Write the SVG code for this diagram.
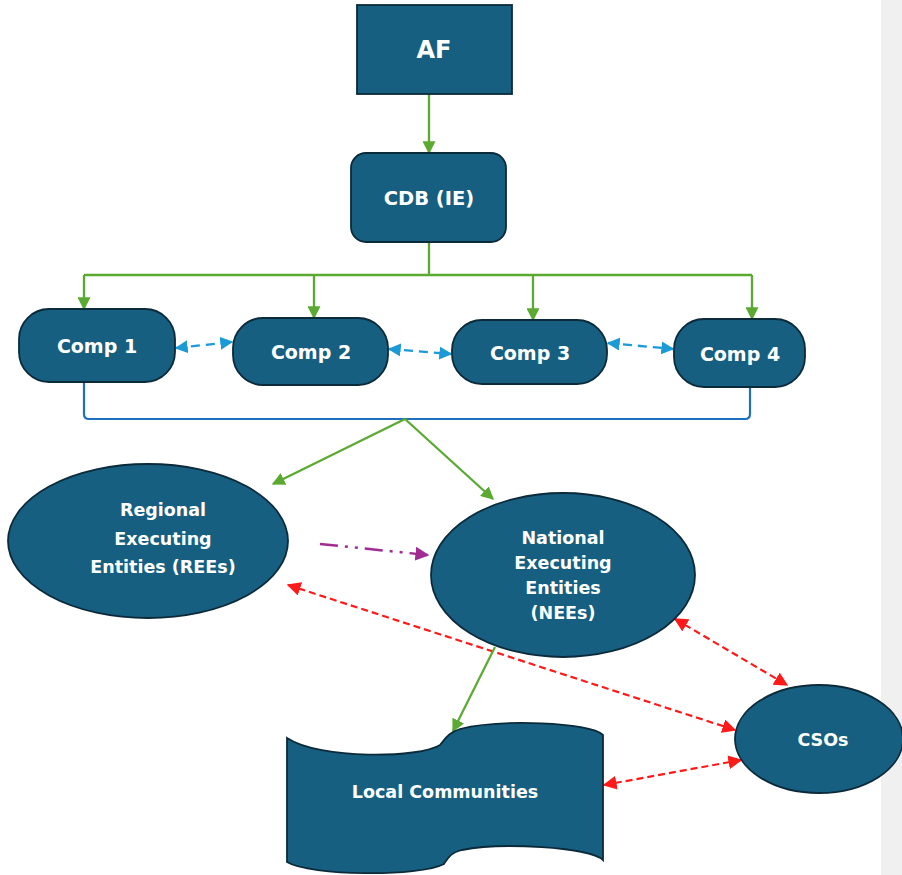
<svg xmlns="http://www.w3.org/2000/svg" width="902" height="875" viewBox="0 0 902 875">
<style>
.n{fill:#175f80;stroke:#0b2a3a;stroke-width:1.8}
.t{fill:#ffffff;font-family:"DejaVu Sans",Verdana,sans-serif;font-weight:bold;text-anchor:middle;dominant-baseline:central}
.g{stroke:#5aaa32;stroke-width:2.3;fill:none}
.b{stroke:#1a9ad6;stroke-width:2.3;fill:none;stroke-dasharray:9 6}
.r{stroke:#ff1a1a;stroke-width:2.2;fill:none;stroke-dasharray:7 4}
</style>
<defs>
<marker id="ag" viewBox="0 0 10 10" refX="9" refY="5" markerWidth="13" markerHeight="13" markerUnits="userSpaceOnUse" orient="auto-start-reverse"><path d="M0,0 L10,5 L0,10 Z" fill="#5aaa32"/></marker>
<marker id="ab" viewBox="0 0 10 10" refX="9" refY="5" markerWidth="13" markerHeight="13" markerUnits="userSpaceOnUse" orient="auto-start-reverse"><path d="M0,0 L10,5 L0,10 Z" fill="#1a9ad6"/></marker>
<marker id="ar" viewBox="0 0 10 10" refX="9" refY="5" markerWidth="14" markerHeight="14" markerUnits="userSpaceOnUse" orient="auto-start-reverse"><path d="M0,0 L10,5 L0,10 Z" fill="#ff1a1a"/></marker>
<marker id="ap" viewBox="0 0 10 10" refX="9" refY="5" markerWidth="14" markerHeight="14" markerUnits="userSpaceOnUse" orient="auto"><path d="M0,0 L10,5 L0,10 Z" fill="#a02b93"/></marker>
</defs>
<rect x="881" y="0" width="21" height="875" fill="#f0f0f0"/>

<g id="connectors">
<line class="g" x1="429" y1="94" x2="429" y2="153" marker-end="url(#ag)"/>
<path class="g" d="M429,242 V275 M84,275 H752"/>
<line class="g" x1="84" y1="275" x2="84" y2="309" marker-end="url(#ag)"/>
<line class="g" x1="314" y1="275" x2="314" y2="318" marker-end="url(#ag)"/>
<line class="g" x1="533" y1="275" x2="533" y2="320" marker-end="url(#ag)"/>
<line class="g" x1="752" y1="275" x2="752" y2="319" marker-end="url(#ag)"/>
<line class="b" x1="176" y1="348" x2="232" y2="342" marker-start="url(#ab)" marker-end="url(#ab)"/>
<line class="b" x1="389" y1="349" x2="451" y2="354" marker-start="url(#ab)" marker-end="url(#ab)"/>
<line class="b" x1="608" y1="343" x2="673" y2="349" marker-start="url(#ab)" marker-end="url(#ab)"/>
<path d="M84,382 V414 Q84,419 89,419 H745 Q750,419 750,414 V387" fill="none" stroke="#1f6fc0" stroke-width="2.2"/>
<line class="g" x1="405" y1="419" x2="273" y2="484" marker-end="url(#ag)"/>
<line class="g" x1="405" y1="419" x2="493" y2="499" marker-end="url(#ag)"/>
<line x1="320" y1="544" x2="428" y2="555" stroke="#a02b93" stroke-width="2.5" stroke-dasharray="18 7 3 7 3 7" marker-end="url(#ap)"/>
<line class="r" x1="288" y1="585" x2="735" y2="730" marker-start="url(#ar)" marker-end="url(#ar)"/>
<line class="r" x1="675" y1="619" x2="787" y2="685" marker-start="url(#ar)" marker-end="url(#ar)"/>
<line class="r" x1="604" y1="785" x2="741" y2="760" marker-start="url(#ar)" marker-end="url(#ar)"/>
<line class="g" x1="495" y1="647" x2="453" y2="731" marker-end="url(#ag)"/>
</g>

<g id="af"><rect class="n" x="357" y="5" width="155" height="89"/><text class="t" x="434" y="50" font-size="24">AF</text></g>
<g id="cdb"><rect class="n" x="351" y="153" width="155" height="89" rx="15"/><text class="t" x="429" y="198" font-size="19.5">CDB (IE)</text></g>
<g id="comp1"><rect class="n" x="19" y="309" width="156" height="73" rx="30"/><text class="t" x="97" y="346" font-size="19">Comp 1</text></g>
<g id="comp2"><rect class="n" x="233" y="318" width="155" height="67" rx="30"/><text class="t" x="311" y="352" font-size="19">Comp 2</text></g>
<g id="comp3"><rect class="n" x="452" y="320" width="155" height="64" rx="30"/><text class="t" x="530" y="353" font-size="19">Comp 3</text></g>
<g id="comp4"><rect class="n" x="674" y="319" width="131" height="68" rx="30"/><text class="t" x="740" y="354" font-size="19">Comp 4</text></g>
<g id="rees"><ellipse class="n" cx="148" cy="541" rx="140" ry="77"/>
<text class="t" font-size="17.5"><tspan x="163" y="510">Regional</tspan><tspan x="163" y="539">Executing</tspan><tspan x="163" y="567">Entities (REEs)</tspan></text></g>
<g id="nees"><ellipse class="n" cx="563" cy="575" rx="132" ry="82"/>
<text class="t" font-size="17.5"><tspan x="563" y="538">National</tspan><tspan x="563" y="563">Executing</tspan><tspan x="563" y="588">Entities</tspan><tspan x="563" y="613">(NEEs)</tspan></text></g>
<g id="csos"><ellipse class="n" cx="819" cy="739" rx="84" ry="54"/><text class="t" x="823" y="740" font-size="17.5">CSOs</text></g>
<g id="local"><path class="n" d="M287,738 C320,760 420,758 440,745 C446,738 448,733 460,729 C500,719 590,722 603,735 L603,860 C590,847 500,842 462,850 C450,853 448,858 444,864 C420,877 310,876 287,862 Z"/>
<text class="t" x="445" y="792" font-size="17.5">Local Communities</text></g>
</svg>
